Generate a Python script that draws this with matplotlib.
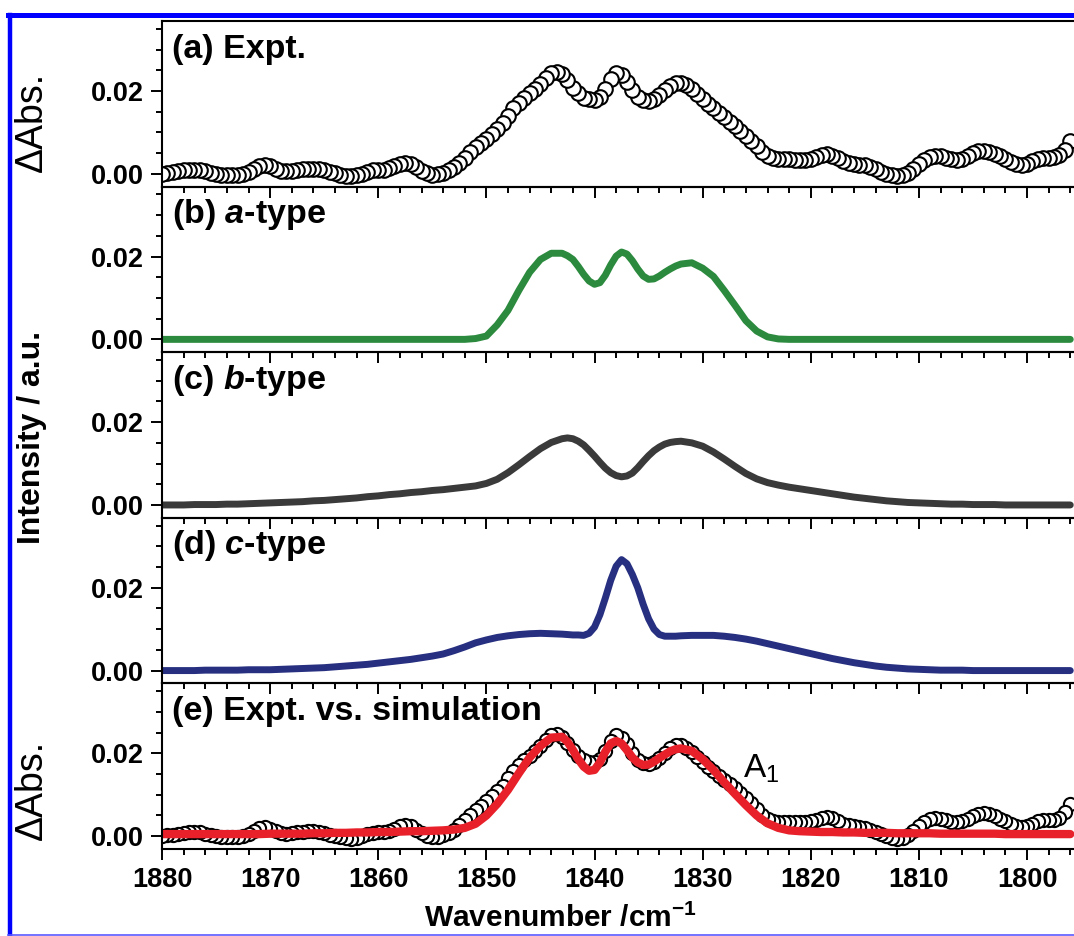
import numpy as np
import matplotlib
matplotlib.use("Agg")
import matplotlib.pyplot as plt
from matplotlib.ticker import MultipleLocator, FormatStrFormatter
from matplotlib.lines import Line2D

plt.rcParams['font.family'] = ['Liberation Sans', 'DejaVu Sans']
plt.rcParams['mathtext.fontset'] = 'custom'
plt.rcParams['mathtext.rm'] = 'Liberation Sans'
plt.rcParams['mathtext.bf'] = 'Liberation Sans:bold'
plt.rcParams['mathtext.it'] = 'Liberation Sans:italic'
plt.rcParams['mathtext.bfit'] = 'Liberation Sans:italic:bold'

# experimental spectrum, 1880 -> 1796 cm-1, 0.5 cm-1 step
wn_expt = np.arange(1880.0, 1795.75, -0.5)
expt = [
    0.0000, 0.0002, 0.0004, 0.0006, 0.0008, 0.0010, 0.0010, 0.0009, 0.0006, 0.0003,
    0.0000, -0.0002, -0.0003, -0.0003, -0.0002, 0.0000, 0.0005, 0.0012, 0.0019, 0.0021,
    0.0018, 0.0012, 0.0007, 0.0006, 0.0007, 0.0009, 0.0011, 0.0012, 0.0012, 0.0011,
    0.0008, 0.0004, 0.0001, -0.0002, -0.0005, -0.0006, -0.0004, 0.0000, 0.0005, 0.0008,
    0.0009, 0.0010, 0.0013, 0.0018, 0.0024, 0.0027, 0.0024, 0.0016, 0.0007, 0.0001,
    -0.0002, -0.0001, 0.0002, 0.0008, 0.0016, 0.0026, 0.0038, 0.0052, 0.0064, 0.0074,
    0.0084, 0.0096, 0.0108, 0.0122, 0.0140, 0.0158, 0.0172, 0.0184, 0.0194, 0.0205,
    0.0218, 0.0232, 0.0244, 0.0247, 0.0240, 0.0226, 0.0208, 0.0194, 0.0184, 0.0180,
    0.0179, 0.0186, 0.0205, 0.0230, 0.0244, 0.0238, 0.0222, 0.0202, 0.0185, 0.0177,
    0.0175, 0.0180, 0.0190, 0.0202, 0.0212, 0.0219, 0.0220, 0.0214, 0.0204, 0.0192,
    0.0180, 0.0168, 0.0158, 0.0146, 0.0136, 0.0126, 0.0116, 0.0104, 0.0092, 0.0080,
    0.0066, 0.0052, 0.0042, 0.0037, 0.0035, 0.0035, 0.0035, 0.0034, 0.0034, 0.0034,
    0.0036, 0.0040, 0.0045, 0.0047, 0.0044, 0.0037, 0.0030, 0.0026, 0.0024, 0.0022,
    0.0020, 0.0016, 0.0011, 0.0005, 0.0000, -0.0004, -0.0006, -0.0004, 0.0002, 0.0012,
    0.0024, 0.0034, 0.0041, 0.0044, 0.0042, 0.0038, 0.0035, 0.0034, 0.0036, 0.0042,
    0.0049, 0.0054, 0.0055, 0.0053, 0.0048, 0.0042, 0.0036, 0.0029, 0.0024, 0.0022,
    0.0024, 0.0030, 0.0036, 0.0039, 0.0039, 0.0040, 0.0045, 0.0058, 0.0078,
]

# simulated band contours: 1 cm-1 step, 0.5 step across the band centre
wn_sim = np.concatenate([np.arange(1880.0, 1842.5, -1.0),
                         np.arange(1842.5, 1831.75, -0.5),
                         np.arange(1831.0, 1795.5, -1.0)])
a_type = (
    [0.0] * 29 +
    [0.0002, 0.0008, 0.0035, 0.0070, 0.0118, 0.0162, 0.0193, 0.0208, 0.0208] +
    [0.0202, 0.0193, 0.0176, 0.0157, 0.0141, 0.0133, 0.0137, 0.0155, 0.0180, 0.0201, 0.0211,
     0.0206, 0.0190, 0.0170, 0.0153, 0.0145, 0.0146, 0.0153, 0.0162, 0.0170, 0.0177, 0.0182] +
    [0.0185, 0.0172, 0.0152, 0.0118, 0.0082, 0.0045, 0.0020, 0.0006, 0.0001] +
    [0.0] * 27
)
b_type = [
    0.0000, 0.0000, 0.0000, 0.0001, 0.0001, 0.0001, 0.0002, 0.0002, 0.0003, 0.0004,
    0.0005, 0.0006, 0.0007, 0.0008, 0.0010, 0.0011, 0.0013, 0.0015, 0.0017, 0.0020,
    0.0022, 0.0025, 0.0027, 0.0030, 0.0032, 0.0035, 0.0037, 0.0040, 0.0043, 0.0046,
    0.0052, 0.0062, 0.0078, 0.0097, 0.0117, 0.0136, 0.0151, 0.0160,
    0.0162, 0.0160, 0.0154, 0.0145, 0.0132, 0.0118, 0.0103, 0.0089, 0.0078, 0.0071, 0.0068,
    0.0070, 0.0077, 0.0090, 0.0105, 0.0119, 0.0131, 0.0140, 0.0147, 0.0151, 0.0153, 0.0154,
    0.0150, 0.0142, 0.0128, 0.0111, 0.0093, 0.0076, 0.0063, 0.0054, 0.0048, 0.0043,
    0.0039, 0.0035, 0.0031, 0.0027, 0.0023, 0.0019, 0.0016, 0.0013, 0.0010, 0.0008,
    0.0006, 0.0005, 0.0004, 0.0003, 0.0002, 0.0002, 0.0001, 0.0001, 0.0001, 0.0000,
    0.0000, 0.0000, 0.0000, 0.0000, 0.0000, 0.0000,
]
c_type = [
    0.0000, 0.0000, 0.0000, 0.0000, 0.0001, 0.0001, 0.0001, 0.0001, 0.0002, 0.0002,
    0.0002, 0.0003, 0.0004, 0.0005, 0.0006, 0.0007, 0.0009, 0.0011, 0.0013, 0.0015,
    0.0018, 0.0021, 0.0024, 0.0027, 0.0031, 0.0035, 0.0040, 0.0048, 0.0057, 0.0067,
    0.0074, 0.0080, 0.0084, 0.0087, 0.0089, 0.0090, 0.0089, 0.0088,
    0.0087, 0.0086, 0.0086, 0.0085, 0.0090, 0.0105, 0.0135, 0.0175, 0.0218, 0.0252, 0.0268,
    0.0258, 0.0232, 0.0200, 0.0160, 0.0125, 0.0100, 0.0087, 0.0083, 0.0083, 0.0083, 0.0084,
    0.0085, 0.0085, 0.0085, 0.0083, 0.0080, 0.0076, 0.0071, 0.0065, 0.0059, 0.0053,
    0.0047, 0.0041, 0.0035, 0.0029, 0.0024, 0.0019, 0.0015, 0.0011, 0.0008, 0.0006,
    0.0004, 0.0003, 0.0002, 0.0001, 0.0001, 0.0001, 0.0000, 0.0000, 0.0000, 0.0000,
    0.0000, 0.0000, 0.0000, 0.0000, 0.0000, 0.0000,
]
simulation = [
    0.0005, 0.0005, 0.0005, 0.0005, 0.0005, 0.0005, 0.0005, 0.0005, 0.0005, 0.0005,
    0.0006, 0.0006, 0.0006, 0.0006, 0.0007, 0.0007, 0.0008, 0.0008, 0.0009, 0.0009,
    0.0010, 0.0010, 0.0011, 0.0012, 0.0012, 0.0013, 0.0014, 0.0016, 0.0020, 0.0030,
    0.0050, 0.0078, 0.0112, 0.0152, 0.0190, 0.0218, 0.0238, 0.0240,
    0.0228, 0.0208, 0.0186, 0.0168, 0.0158, 0.0160, 0.0178, 0.0204, 0.0224, 0.0230, 0.0224,
    0.0208, 0.0190, 0.0178, 0.0172, 0.0173, 0.0180, 0.0189, 0.0197, 0.0205, 0.0210, 0.0212,
    0.0206, 0.0186, 0.0160, 0.0130, 0.0102, 0.0075, 0.0050, 0.0031, 0.0020, 0.0014,
    0.0012, 0.0011, 0.0010, 0.0010, 0.0009, 0.0009, 0.0008, 0.0008, 0.0008, 0.0007,
    0.0007, 0.0007, 0.0007, 0.0006, 0.0006, 0.0006, 0.0006, 0.0006, 0.0006, 0.0005,
    0.0005, 0.0005, 0.0005, 0.0005, 0.0005, 0.0005,
]

labels = ['(a) Expt.', r'(b) $\mathbfit{a}$-type', r'(c) $\mathbfit{b}$-type',
          r'(d) $\mathbfit{c}$-type', '(e) Expt. vs. simulation']
sim_colors = ['#2b8a3e', '#3a3a3a', '#262f80']

W, H = 1074, 936
fig = plt.figure(figsize=(W / 100, H / 100), dpi=100)
gs = fig.add_gridspec(5, 1, left=162 / W, right=1080 / W,
                      top=1 - 21 / H, bottom=1 - 849 / H, hspace=0)
axes = [fig.add_subplot(gs[i]) for i in range(5)]

# expt data ordered low -> high wavenumber so the circles stack like the original
xe = wn_expt[::-1]
ye = np.array(expt)[::-1]

axes[0].plot(xe, ye, 'o', ms=10.5, mfc='white', mec='black', mew=1.5)
for ax, y, c in zip(axes[1:4], [a_type, b_type, c_type], sim_colors):
    ax.plot(wn_sim, y, '-', color=c, lw=5, solid_capstyle='round')
axes[4].plot(xe, ye, 'o', ms=9.5, mfc='white', mec='black', mew=1.5)
axes[4].plot(wn_sim, simulation, '-', color='#e8202a', lw=6, solid_capstyle='round')

for i, ax in enumerate(axes):
    ax.set_facecolor('none')
    ax.set_xlim(1880, 1795.1)
    ax.set_ylim(-0.0031, 0.0369)
    ax.xaxis.set_major_locator(MultipleLocator(10))
    ax.xaxis.set_minor_locator(MultipleLocator(2))
    ax.yaxis.set_major_locator(MultipleLocator(0.02))
    ax.yaxis.set_minor_locator(MultipleLocator(0.005))
    ax.yaxis.set_major_formatter(FormatStrFormatter('%.2f'))
    ax.tick_params(which='both', direction='out', width=1.4, top=False, right=False)
    ax.tick_params(which='major', length=8, labelsize=19.5, pad=5)
    ax.tick_params(which='minor', length=4.5)
    for lab in ax.get_yticklabels() + ax.get_xticklabels():
        lab.set_fontweight('bold')
    for s in ax.spines.values():
        s.set_linewidth(1.5)
    if i < 4:
        ax.tick_params(axis='x', labelbottom=False)
    ax.text(0.011, 0.83, labels[i], transform=ax.transAxes, ha='left', va='center',
            fontsize=24.5, fontweight='bold')

axes[4].text(1826.3, 0.0162, r'A$_\mathregular{1}$', fontsize=24, ha='left', va='center')

fig.text(560 / W, 1 - 918 / H, r'Wavenumber /cm$^{\mathbf{-1}}$', ha='center', va='center',
         fontsize=21.5, fontweight='bold')
fig.text(32 / W, 1 - 122 / H, 'ΔAbs.', rotation=90, ha='center', va='center', fontsize=27)
fig.text(32 / W, 1 - 790 / H, 'ΔAbs.', rotation=90, ha='center', va='center', fontsize=27)
fig.text(32 / W, 1 - 437 / H, 'Intensity / a.u.', rotation=90, ha='center', va='center',
         fontsize=23, fontweight='bold')

# blue frame around the figure (right side cropped in the original)
blue = '#0000ff'
fig.add_artist(Line2D([10 / W, 10 / W], [1 - 15 / H, 1 - 934 / H], color=blue, lw=3.2,
                      transform=fig.transFigure))
fig.add_artist(Line2D([8 / W, 1.0], [1 - 15 / H, 1 - 15 / H], color=blue, lw=3.6,
                      transform=fig.transFigure))
fig.add_artist(Line2D([8 / W, 1.0], [1 - 934.5 / H, 1 - 934.5 / H], color='#5a5aff', lw=1.2,
                      transform=fig.transFigure))

fig.savefig('out.png', dpi=100)
